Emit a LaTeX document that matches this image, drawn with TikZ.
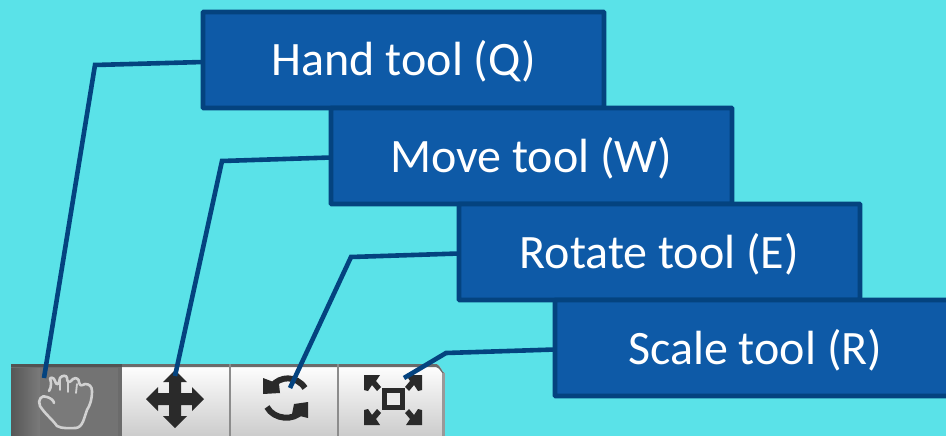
\documentclass[tikz,border=0pt]{standalone}
\usepackage{fontspec}
\setmainfont{Carlito}
\usetikzlibrary{calc}
\definecolor{bgc}{HTML}{5AE2E8}
\definecolor{boxf}{HTML}{0E5AA7}
\definecolor{boxl}{HTML}{04437F}
\definecolor{ico}{HTML}{2A2A2A}
\tikzset{
  toolbox/.style={draw=boxl,line width=4.8pt,fill=boxf,rounded corners=0.8pt,minimum width=401pt,minimum height=96pt,inner sep=0pt,outer sep=0pt,anchor=north west},
  label/.style={text=white,font=\fontsize{48}{52}\selectfont,inner sep=0pt,anchor=base},
  conn/.style={draw=boxl,line width=4.6pt,line join=miter},
  cell/.style={draw=none,top color=white,bottom color=white!80!black},
  divider/.style={draw=black!45,line width=2.4pt},
  icon/.style={fill=ico,draw=none},
  iconline/.style={draw=ico,line width=6pt}
}
\begin{document}
\begin{tikzpicture}[x=1pt,y=-1pt]
\useasboundingbox (0,0) rectangle (946,436);
\fill[bgc] (0,0) rectangle (946,436);
% toolbar
\fill[black!58] (11,364) rectangle (122,436);
\shade[left color=black!66,right color=black!52] (11,368) rectangle (40,436);
\fill[black!55] (40,368) rectangle (118,436);
\fill[black!68] (11,364) rectangle (122,367);
\shade[cell] (122,364) rectangle (230,436);
\shade[cell] (230,364) rectangle (338,436);
\shade[cell] (338,364) -- (436,364) to[out=0,in=-90] (444,372) -- (444,436) -- (338,436) -- cycle;
\fill[black!58] (122,364) -- (436,364) to[out=0,in=-90] (444,372) -- (444,374) to[out=-90,in=0] (436,367) -- (122,367) -- cycle;
\fill[black!40] (442,373) rectangle (444.5,436);
\draw[divider] (230,364) -- (230,436);
\draw[divider] (338,364) -- (338,436);
% hand icon
\draw[white!82!black,line width=2.6pt,line join=round,line cap=round,fill=black!52]
 (49,391) .. controls (52,387) and (51,380) .. (50,379) .. controls (50,377) and (54,377) .. (55,381)
 .. controls (57,387) and (59,384) .. (60,378) .. controls (62,375) and (67,375) .. (67,378)
 .. controls (67,382) and (69,384) .. (73,379) .. controls (76,377) and (79,379) .. (79,382)
 .. controls (80,386) and (81,386) .. (85,384) .. controls (89,384) and (92,386) .. (92,391)
 .. controls (92,400) and (90,405) .. (87,410) .. controls (84,418) and (83,427) .. (76,428)
 .. controls (70,428) and (62,429) .. (57,426) .. controls (52,419) and (45,414) .. (40,406)
 .. controls (37,400) and (42,394) .. (47,397) .. controls (51,398) and (54,401) .. (54,403);
\draw[white!82!black,line width=1.8pt,line cap=round] (60,390) -- (60,380) (68,392) -- (68,382) (76,393) -- (77,384);
% move icon
\path[icon] (175,370) -- (187,382) -- (181,382) -- (181,393) -- (192,393) -- (192,387) -- (204,399) -- (192,411) -- (192,405) -- (181,405) -- (181,416) -- (187,416) -- (175,428) -- (163,416) -- (169,416) -- (169,405) -- (158,405) -- (158,411) -- (146,399) -- (158,387) -- (158,393) -- (169,393) -- (169,382) -- (163,382) -- cycle;
% rotate icon
\draw[iconline] (272,386) .. controls (280,376) and (296,375) .. (305,388);
\path[icon] (263,378) -- (279,384) -- (280,393) -- (263,394) -- cycle;
\draw[iconline] (267,407) .. controls (274,420) and (294,421) .. (302,411);
\path[icon] (308,402) -- (308,418) -- (292,414) -- (294,404) -- cycle;
% scale icon
\draw[ico,line width=5.5pt] (384.5,390.5) rectangle (402.5,407.5);
\fill[white!92!black] (387.3,393.3) rectangle (399.7,404.7);
\path[icon] (364,375) -- (380,375) -- (376,381) -- (381,387) -- (377,391) -- (372,385) -- (368,391) -- (364,390) -- cycle;
\path[icon] (422,375) -- (422,390) -- (418,391) -- (414,385) -- (409,391) -- (405,387) -- (410,381) -- (406,375) -- cycle;
\path[icon] (364,425) -- (364,410) -- (368,409) -- (372,415) -- (377,409) -- (381,413) -- (376,419) -- (380,425) -- cycle;
\path[icon] (422,425) -- (406,425) -- (410,419) -- (405,413) -- (409,409) -- (414,415) -- (418,409) -- (422,410) -- cycle;
% connectors' free points
\coordinate (hb) at (95,65);
\coordinate (he) at (44,378);
\coordinate (mb) at (222,161);
\coordinate (me) at (175,376);
\coordinate (rb) at (351,257);
\coordinate (re) at (290,388);
\coordinate (sb) at (446,353);
\coordinate (se) at (404,378);
% boxes, last on top
\node[toolbox] (hand) at (203,12) {};
\node[toolbox] (move) at (331,108) {};
\node[toolbox] (rotate) at (459,204) {};
\node[toolbox] (scale) at (555,300) {};
\node[label] (handt) at (404,76) {Hand tool (Q)};
\node[label] (movet) at (531,172) {Move tool (W)};
\node[label] (rotatet) at (659.3,268) {Rotate tool (E)};
\node[label] (scalet) at (755.3,364) {Scale tool (R)};
% connectors
\draw[conn] ([yshift=-2pt]hand.west) -- (hb) -- (he);
\draw[conn] ([yshift=-1.5pt]move.west) -- (mb) -- (me);
\draw[conn] ([yshift=-1.5pt]rotate.west) -- (rb) -- (re);
\draw[conn] ([yshift=-1.5pt]scale.west) -- (sb) -- (se);
\end{tikzpicture}
\end{document}
